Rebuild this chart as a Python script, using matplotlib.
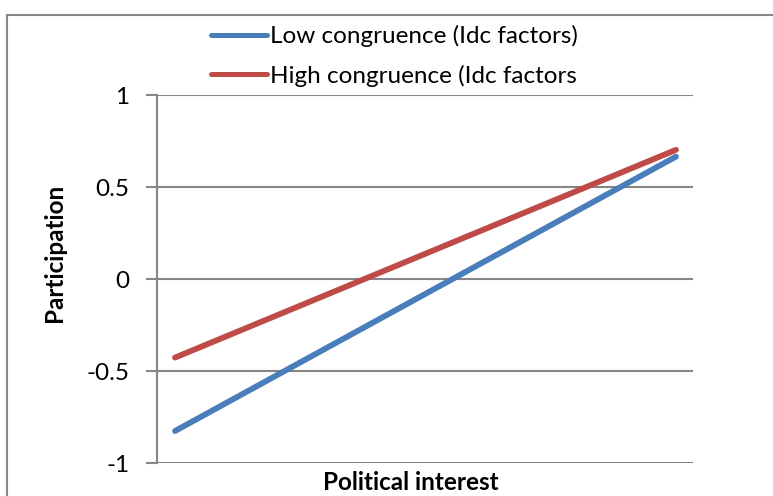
import matplotlib.pyplot as plt
from matplotlib.patches import Rectangle

# data
x_pos = [0, 1]
low_congruence = [-0.826, 0.665]
high_congruence = [-0.427, 0.702]
y_ticks = [-1, -0.5, 0, 0.5, 1]
y_labels = ["-1", "-0.5", "0", "0.5", "1"]

plt.rcParams['font.family'] = ['Lato', 'DejaVu Sans']
fs = 17.5
W, H = 773, 496

fig = plt.figure(figsize=(W / 100, H / 100), dpi=100)
ax = fig.add_axes([157 / W, 1 - 463 / H, 536 / W, 368 / H])

grid_c = '#868686'
ax.plot(x_pos, low_congruence, color='#4a7ebb', lw=4.2, solid_capstyle='round',
        label='Low congruence (Idc factors)')
ax.plot(x_pos, high_congruence, color='#be4b48', lw=4.2, solid_capstyle='round',
        label='High congruence (Idc factors')

ax.set_xlim(-0.036, 1.034)
ax.set_ylim(-1, 1)
ax.set_yticks(y_ticks)
ax.set_yticklabels(y_labels, fontsize=fs)
ax.set_xticks([])
ax.yaxis.grid(True, color=grid_c, lw=1.5)
ax.set_axisbelow(True)
for s in ['top', 'right', 'bottom']:
    ax.spines[s].set_visible(False)
ax.spines['left'].set_color(grid_c)
ax.spines['left'].set_linewidth(1.5)
ax.tick_params(axis='y', length=8, width=1.5, color=grid_c, pad=12)

fig.text(55 / W, 1 - 253 / H, 'Participation', rotation=90, fontsize=fs,
         fontweight='bold', ha='center', va='center')
fig.text(411 / W, 1 - 482 / H, 'Political interest', fontsize=fs,
         fontweight='bold', ha='center', va='center')

leg = fig.legend(loc='upper left', bbox_to_anchor=(211 / W, 1 - 25 / H),
                 frameon=False, fontsize=fs, handlelength=2.3, handletextpad=0.12,
                 labelspacing=0.72, borderpad=0, borderaxespad=0)
for h in leg.get_lines():
    h.set_linewidth(3.6)

fig.patches.append(Rectangle((7 / W, -0.1), 1.2, 1 - 15 / H + 0.1,
                             transform=fig.transFigure, fill=False,
                             edgecolor=grid_c, lw=1.5))

fig.savefig('out.png', dpi=100)
